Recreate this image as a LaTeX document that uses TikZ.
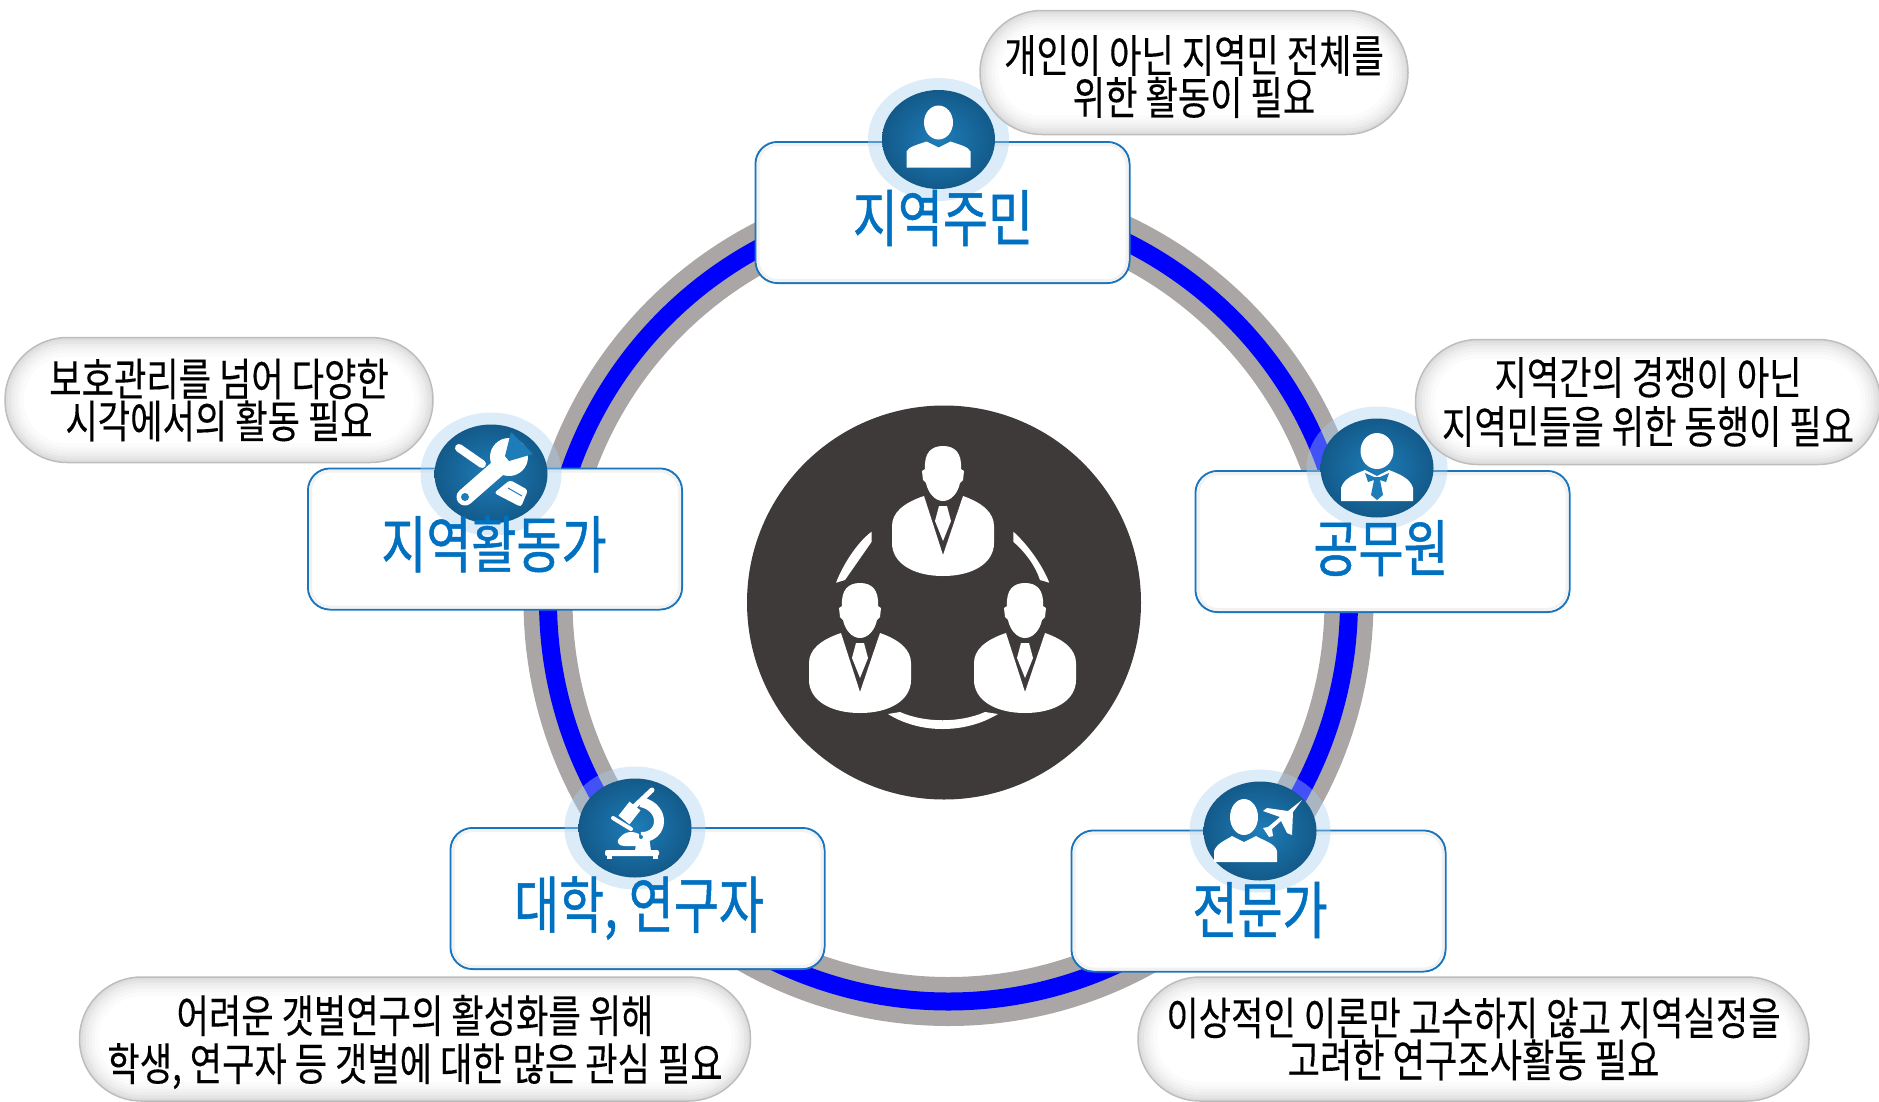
\documentclass[tikz,border=0pt]{standalone}
\usepackage{fontspec}
\newfontfamily\kofont[FakeStretch=.782,FakeBold=.2]{Noto Sans CJK KR}
\newfontfamily\kobold[FakeStretch=.79,FakeBold=.8]{Noto Sans CJK KR}
\usetikzlibrary{shapes.geometric}
\definecolor{ringgrey}{HTML}{ABA6A6}
\definecolor{boxline}{HTML}{1B75BC}
\definecolor{labelblue}{HTML}{0070C0}
\definecolor{darkdisc}{HTML}{3E3A39}
\definecolor{halo}{RGB}{167,207,237}
\definecolor{iconin}{HTML}{1E7DB8}
\definecolor{iconout}{HTML}{135A8A}
\tikzset{
% Boxes, labels and the icon discs
area box/.style={draw=boxline,line width=2,fill=white,rounded corners=22,minimum width=374,minimum height=141,inner sep=0},
area rim/.style={draw=black!5,line width=3,rounded corners=20,minimum width=369,minimum height=136,inner sep=0},
area label/.style={font=\kobold\fontsize{62}{62}\selectfont,text=labelblue,inner sep=0},
icon halo/.style={shape=ellipse,fill=halo,fill opacity=.4,minimum width=141,minimum height=123,inner sep=0},
icon disc/.style={shape=ellipse,inner color=iconin,outer color=iconout,minimum width=113,minimum height=99,inner sep=0},
note text/.style={font=\kofont\fontsize{45}{41}\selectfont,align=center,inner sep=0,text=black},
% One person of the middle disc, measured from the chin
person/.pic={
	\fill[white](0,0)..controls(-8,0)and(-15,-8)..(-17,-18)--(-20,-21)--(-21,-30)--(-18,-32)
		..controls(-19,-48)and(-12,-55)..(0,-55)
		..controls(12,-55)and(19,-48)..(18,-32)--(21,-30)--(20,-21)--(17,-18)
		..controls(15,-8)and(8,0)..(0,0)--cycle;
	\fill[white](-19,-5)--(0,54)--(20,-5)..controls(40,2)and(51,12)..(51,25)--(51,42)
		..controls(51,62)and(30,75)..(0,75)
		..controls(-30,75)and(-51,62)..(-51,42)--(-51,25)
		..controls(-51,12)and(-40,2)..(-19,-5)--cycle;
	\fill[white](-4,5)--(4,5)--(8,20)--(0,40)--(-8,20)--cycle;
},
resident icon/.pic={
	\fill[white](0,-17)ellipse[x radius=14.5,y radius=17];
	\fill[white](-32,28)--(-32,12)..controls(-30,7)and(-20,5)..(-12,2)--(0,8)--(12,2)
		..controls(20,5)and(30,7)..(32,12)--(32,28)--cycle;
},
official icon/.pic={
	\fill[white](0,-17)ellipse[x radius=16.5,y radius=18];
	\fill[white](-36,33)--(-36,20)..controls(-33,10)and(-22,6)..(-12,2)--(0,8)--(12,2)
		..controls(22,6)and(33,10)..(36,20)--(36,33)--cycle;
	\fill[iconin](-12,5)--(-3,9)--(3,9)--(12,5)--(9,14)--(3,12)--(6,27)--(0,32)--(-6,27)--(-3,12)--(-9,14)--cycle;
},
expert icon/.pic={
	\fill[white](-16,-14)ellipse[x radius=14,y radius=18];
	\fill[white](-46,31)--(-46,20)..controls(-43,12)and(-34,9)..(-28,5)--(-16,11)--(-4,5)
		..controls(2,9)and(15,12)..(17,20)--(17,31)--cycle;
	\fill[white](42,-31)--(33,-19)--(32,4)--(27,2)--(21,-10)--(12,-2)--(13,5)--(9,6)--(3,-3)--(8,-4)
		--(20,-14)--(3,-20)--(7,-23)--(28,-20)--cycle;
},
tools icon/.pic={
	\draw[white,line width=8,line cap=round](-32,-26)--(-9,-10);
	\fill[white,rounded corners=3](19,6)--(37,16)--(30,33)--(3,19)--cycle;
	\draw[iconin,line width=1](17,14)--(31,22);
	\draw[white,line width=17,line cap=round](-26,23)--(14,-12);
	\fill[white](18,-17)circle[radius=19];
	\fill[iconin](14,-18)--(20,-42)--(42,-20)--(18,-13)--cycle;
	\fill[iconin](-26,23)circle[radius=4];
},
microscope icon/.pic={
	\draw[white,line width=14](-11,-8)--(0,-22);
	\draw[white,line width=5,line cap=round](0,-22)--(17,-38);
	\draw[white,line width=10](6,-26)..controls(32,-20)and(28,10)..(6,9);
	\draw[white,line width=4,line cap=round](-22,-10)--(-4,1);
	\fill[white](-17,12)..controls(-12,4)and(-4,2)..(4,6)--(4,18)--(-10,18)..controls(-16,18)and(-18,15)..(-17,12)--cycle;
	\fill[white](2,8)--(14,8)--(16,23)--(0,23)--cycle;
	\fill[white,rounded corners=2](-30,22)rectangle(24,28);
	\fill[white](-28,27)rectangle(-23,31);
	\fill[white](18,27)rectangle(23,31);
	\fill[iconin](6,9)circle[radius=2];
}
}
% Box with a faint inner rim: name, centre
\newcommand{\areabox}[2]{
	\node(#1)[area box]at(#2){};
	\node(#1 rim)[area rim]at(#2){};
}
% Pill with a soft rim: name, centre, width, height, text, text shift
\newcommand{\notepill}[6]{
	\node(#1-edge)[draw=black!26,line width=1.5,fill=black!13,rounded corners=(#4/2)*1pt,minimum width=#3,minimum height=#4,inner sep=0]at(#2){};
	\foreach \inset/\shadeval in {3/10,6/7,9/5,12/3,15/1.5,19/0}{
		\node(#1-\inset)[fill=black!\shadeval,rounded corners=(#4/2-\inset)*1pt,minimum width=(#3-2*\inset)*1pt,minimum height=(#4-2*\inset)*1pt,inner sep=0]at(#2){};
	}
	\node(#1)[note text,yshift=-#6]at(#2){#5};
}

\begin{document}
\begin{tikzpicture}[x=1pt,y=-1pt]
	\useasboundingbox(0,0)rectangle(1879,1101);
	% The ring
	\draw[ringgrey,line width=49](948.5,601)circle[radius=400.5];
	\draw[blue,line width=18](948.5,601)circle[radius=400.5];
	% Middle disc
	\node(middle)[circle,fill=darkdisc,minimum size=394,inner sep=0]at(944,602.5){};
	\pic at(943,501){person};
	\pic at(860,638){person};
	\pic at(1025,638){person};
	\fill[white](871.7,531.7)..controls(860,540)and(845,560)..(836,582.7)--(845,580)--(871.7,541.7)--cycle;
	\fill[white](1013.3,531.7)..controls(1025,542)and(1041,562)..(1049.3,582.7)--(1040,580)..controls(1035,565)and(1025,552)..(1013.3,541.7)--cycle;
	\fill[white](888,714)--(900,712)..controls(925,723)and(960,723)..(985,712)--(998,714)..controls(965,734)and(920,734)..(888,714)--cycle;
	% The five boxes
	\areabox{resident}{942.5,212.5}
	\areabox{official}{1382.5,541.5}
	\areabox{activist}{495,539}
	\areabox{university}{637.5,898.5}
	\areabox{expert}{1258.5,901}
	% Icons
	\node(resident halo)[icon halo]at(938.5,139.5){};
	\node(official halo)[icon halo]at(1377,468){};
	\node(activist halo)[icon halo]at(491,474){};
	\node(university halo)[icon halo]at(635,828){};
	\node(expert halo)[icon halo]at(1260,831){};
	\node(resident disc)[icon disc]at(resident halo){};
	\node(official disc)[icon disc]at(official halo){};
	\node(activist disc)[icon disc]at(activist halo){};
	\node(university disc)[icon disc]at(university halo){};
	\node(expert disc)[icon disc]at(expert halo){};
	\pic at(resident disc){resident icon};
	\pic at(official disc){official icon};
	\pic at(activist disc){tools icon};
	\pic at(university disc){microscope icon};
	\pic at(expert disc){expert icon};
	% Labels
	\node(resident label)[area label]at(943,218){지역주민};
	\node(official label)[area label]at(1381,548){공무원};
	\node(activist label)[area label]at(494,544){지역활동가};
	\node(university label)[area label]at(639,908){대학, 연구자};
	\node(expert label)[area label]at(1260,910){전문가};
	% Notes
	\notepill{resident note}{1194,72.5}{428}{124}{개인이 아닌 지역민 전체를\\위한 활동이 필요}{4}
	\notepill{official note}{1648,402}{465}{125}{지역간의 경쟁이 아닌\\[8pt]지역민들을 위한 동행이 필요}{0}
	\notepill{activist note}{219,400}{428}{125}{보호관리를 넘어 다양한\\시각에서의 활동 필요}{0}
	\notepill{university note}{415,1039}{671}{124}{어려운 갯벌연구의 활성화를 위해\\[7pt]학생, 연구자 등 갯벌에 대한 많은 관심 필요}{3}
	\notepill{expert note}{1473.5,1039}{671}{124}{이상적인 이론만 고수하지 않고 지역실정을\\고려한 연구조사활동 필요}{0}
\end{tikzpicture}
\end{document}
